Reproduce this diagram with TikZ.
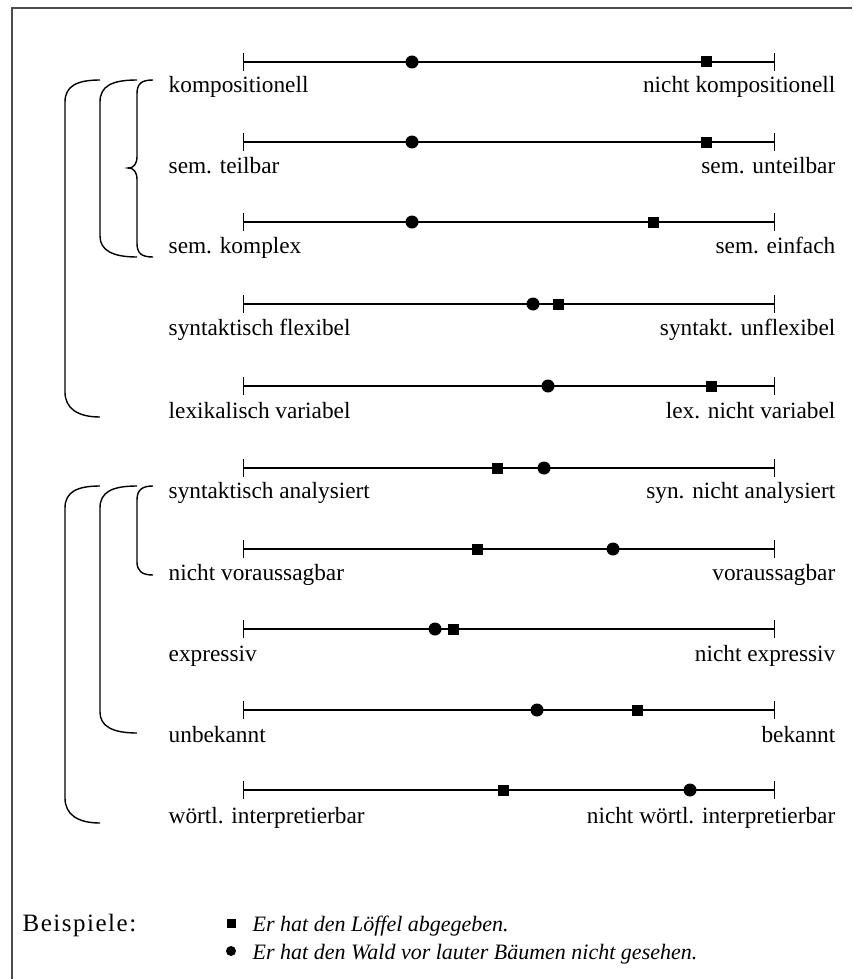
\documentclass[tikz,border=0pt]{standalone}
\usepackage{fontspec}
\setmainfont{Liberation Serif}
\usepackage{tikz}
\usetikzlibrary{arrows.meta}

\begin{document}
\begin{tikzpicture}[x=1pt, y=-1pt, line width=1.4pt]
\useasboundingbox (0,0) rectangle (852,979);
\draw[line width=2pt, black!70] (852,8) -- (12,8) -- (12,979);

% ends of the scales
\coordinate (a1) at (243,62);  \coordinate (b1) at (775,62);
\coordinate (a2) at (243,142); \coordinate (b2) at (775,142);
\coordinate (a3) at (243,222); \coordinate (b3) at (775,222);
\coordinate (a4) at (243,304); \coordinate (b4) at (775,304);
\coordinate (a5) at (243,386); \coordinate (b5) at (775,386);
\coordinate (a6) at (243,468); \coordinate (b6) at (775,468);
\coordinate (a7) at (243,549); \coordinate (b7) at (775,549);
\coordinate (a8) at (243,629); \coordinate (b8) at (775,629);
\coordinate (a9) at (243,710); \coordinate (b9) at (775,710);
\coordinate (a10) at (243,790); \coordinate (b10) at (775,790);

\begin{scope}[{Bar[width=18pt]}-{Bar[width=18pt]}]
    \path (a1) edge (b1);
    \path (a2) edge (b2);
    \path (a3) edge (b3);
    \path (a4) edge (b4);
    \path (a5) edge (b5);
    \path (a6) edge (b6);
    \path (a7) edge (b7);
    \path (a8) edge (b8);
    \path (a9) edge (b9);
    \path (a10) edge (b10);
\end{scope}

% markers
\begin{scope}[every node/.style={fill=black, inner sep=0pt},
              dot/.style={circle, minimum size=13pt},
              box/.style={rectangle, minimum size=11pt}]
    \node[dot] (c1) at (412,62) {};   \node[box] (s1) at (706,62) {};
    \node[dot] (c2) at (412,142) {};  \node[box] (s2) at (706,142) {};
    \node[dot] (c3) at (412,222) {};  \node[box] (s3) at (653,222) {};
    \node[dot] (c4) at (533,304) {};  \node[box] (s4) at (558,304) {};
    \node[dot] (c5) at (548,386) {};  \node[box] (s5) at (711,386) {};
    \node[dot] (c6) at (544,468) {};  \node[box] (s6) at (497,468) {};
    \node[dot] (c7) at (613,549) {};  \node[box] (s7) at (477,549) {};
    \node[dot] (c8) at (435,629) {};  \node[box] (s8) at (453,629) {};
    \node[dot] (c9) at (537,710) {};  \node[box] (s9) at (637,710) {};
    \node[dot] (c10) at (690,790) {}; \node[box] (s10) at (503,790) {};
\end{scope}

% labels
\begin{scope}[every node/.style={font=\fontsize{23.3}{28}\selectfont, inner sep=0pt},
              left/.style={anchor=base west}, right/.style={anchor=base east}]
    \node[left] (l1) at (168,93) {kompositionell};
    \node[right] (r1) at (836,93) {nicht kompositionell};
    \node[left] (l2) at (168,173) {sem. teilbar};
    \node[right] (r2) at (836,173) {sem. unteilbar};
    \node[left] (l3) at (168,253) {sem. komplex};
    \node[right] (r3) at (836,253) {sem. einfach};
    \node[left] (l4) at (168,335) {syntaktisch flexibel};
    \node[right] (r4) at (836,335) {syntakt. unflexibel};
    \node[left] (l5) at (168,418) {lexikalisch variabel};
    \node[right] (r5) at (836,418) {lex. nicht variabel};
    \node[left] (l6) at (168,498) {syntaktisch analysiert};
    \node[right] (r6) at (836,498) {syn. nicht analysiert};
    \node[left] (l7) at (168,580) {nicht voraussagbar};
    \node[right] (r7) at (836,580) {voraussagbar};
    \node[left] (l8) at (168,661) {expressiv};
    \node[right] (r8) at (836,661) {nicht expressiv};
    \node[left] (l9) at (168,742) {unbekannt};
    \node[right] (r9) at (836,742) {bekannt};
    \node[left] (l10) at (168,823) {wörtl. interpretierbar};
    \node[right] (r10) at (836,823) {nicht wörtl. interpretierbar};
\end{scope}

% brackets, first group
\draw (153,80) .. controls (141,80) and (137,84) .. (137,94) -- (137,156)
      .. controls (137,164) and (134,168) .. (128,168)
      .. controls (134,168) and (137,172) .. (137,180) -- (137,243)
      .. controls (137,253) and (141,257) .. (153,257);
\draw (137,80) .. controls (112,80) and (100,86) .. (100,102) -- (100,236)
      .. controls (100,250) and (112,257) .. (137,257);
\draw (100,80) .. controls (77,80) and (65,86) .. (65,102) -- (65,392)
      .. controls (65,408) and (77,417) .. (100,417);

% brackets, second group
\draw (153,486) .. controls (142,486) and (137,490) .. (137,500) -- (137,562)
      .. controls (137,571) and (142,575) .. (153,575);
\draw (137,486) .. controls (112,486) and (100,492) .. (100,508) -- (100,712)
      .. controls (100,726) and (112,733) .. (137,733);
\draw (100,486) .. controls (77,486) and (65,492) .. (65,508) -- (65,798)
      .. controls (65,814) and (77,823) .. (100,823);

% legend
\begin{scope}[every node/.style={font=\fontsize{22}{26}\selectfont, inner sep=0pt}]
    \node[anchor=base west, font=\fontsize{25}{30}\selectfont\addfontfeature{LetterSpace=6}] (bsp) at (22,931) {Beispiele:};
    \node[fill=black, rectangle, minimum size=9pt] (ks) at (231,923) {};
    \node[anchor=base west] (ex1) at (252,931) {\itshape Er hat den Löffel abgegeben.};
    \node[fill=black, circle, minimum size=10pt] (kc) at (231,951) {};
    \node[anchor=base west] (ex2) at (252,959) {\itshape Er hat den Wald vor lauter Bäumen nicht gesehen.};
\end{scope}
\end{tikzpicture}
\end{document}
